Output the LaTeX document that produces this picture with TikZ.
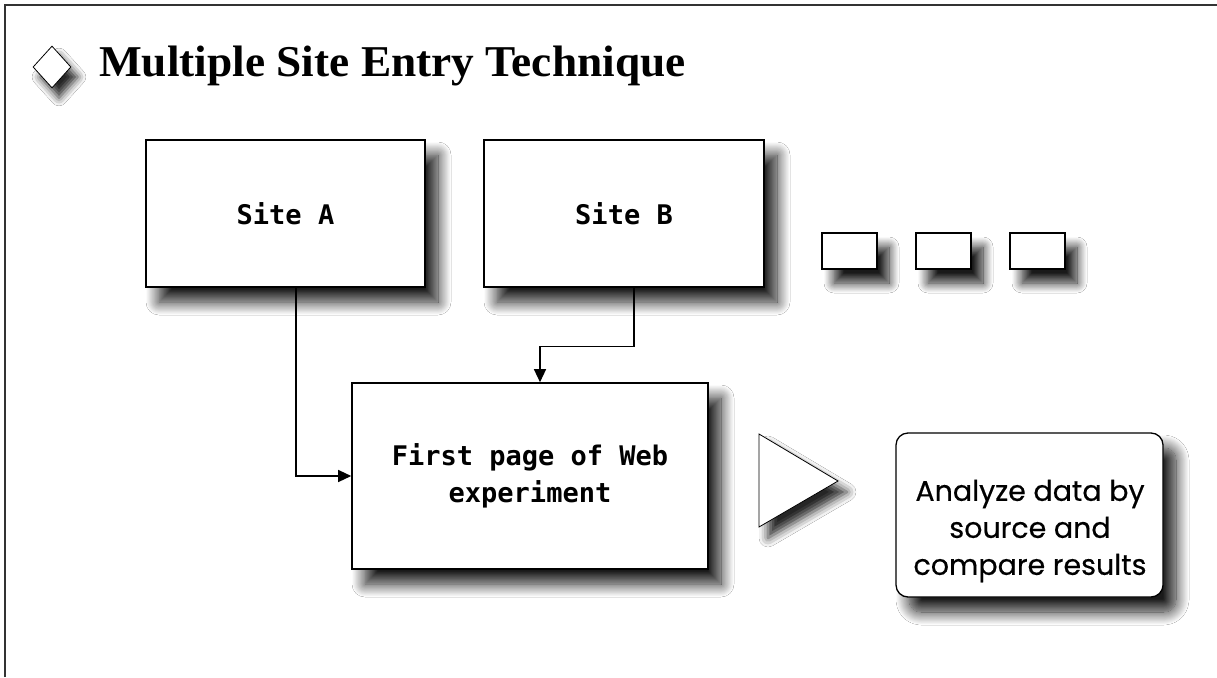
\documentclass[tikz,border=0pt]{standalone}
\usepackage{fontspec}
\usetikzlibrary{arrows.meta,shapes.geometric,shadows.blur,calc}
\newfontfamily\monofont{DejaVu Sans Mono}
\newfontfamily\titlefont{Liberation Serif}
\newfontfamily\roundfont[FakeBold=0.4]{Poppins}
\begin{document}
\begin{tikzpicture}[x=1pt,y=-1pt,
  shad/.style={blur shadow={shadow xshift=13pt,shadow yshift=-15pt,shadow blur radius=13pt,shadow blur steps=16,shadow opacity=90}},
  boxnode/.style={draw=black,line width=1.6pt,fill=white,rectangle,inner sep=0pt,shad,
     font=\monofont\bfseries\fontsize{27}{37}\selectfont,align=center},
  smallbox/.style={draw=black,line width=2pt,fill=white,rectangle,inner sep=0pt,
     minimum width=55pt,minimum height=36pt,
     blur shadow={shadow xshift=12pt,shadow yshift=-14pt,shadow blur radius=10pt,shadow blur steps=12,shadow opacity=90}},
  conn/.style={line width=1.3pt,-{Triangle[length=13pt,width=12pt]}}
]
\useasboundingbox (0,0) rectangle (1217,677);
\fill[white] (0,0) rectangle (1217,677);
\draw[line width=1.5pt,black!80] (5,677) -- (5,5) -- (1217,5);

% title
\node[draw=black,line width=0.8pt,fill=white,diamond,inner sep=0pt,minimum width=38pt,minimum height=42pt,
  blur shadow={shadow xshift=7pt,shadow yshift=-10pt,shadow blur radius=8pt,shadow opacity=85}] (dia) at (52,67) {};
\node[anchor=west,inner sep=0pt,font=\titlefont\bfseries\fontsize{44}{50}\selectfont,xscale=1.03] (title) at (99,66) {Multiple Site Entry Technique};

% site boxes
\node[boxnode,minimum width=279pt,minimum height=147pt] (a) at (285.5,213.5) {Site A};
\node[boxnode,minimum width=280pt,minimum height=147pt] (b) at (624,213.5) {Site B};

\node[smallbox] (s1) at (849.5,251) {};
\node[smallbox] (s2) at (943.5,251) {};
\node[smallbox] (s3) at (1037.5,251) {};

% first page
\node[boxnode,minimum width=356pt,minimum height=186pt] (fp) at (530,476) {First page of Web\\experiment};

% connectors
\draw[conn] ([xshift=10.5pt]a.south) |- (fp.west);
\draw[conn] ([xshift=10pt]b.south) -- ++(0,59) -| ([xshift=10pt]fp.north);

% triangle
\coordinate (t1) at (759,434);
\coordinate (t2) at (838,481);
\coordinate (t3) at (759,527);
\draw[line width=0.8pt,fill=white,blur shadow={shadow xshift=9pt,shadow yshift=-11pt,shadow blur radius=9pt,shadow opacity=85}] (t1) -- (t2) -- (t3) -- cycle;

% result box
\node[draw=black,line width=1.3pt,fill=white,rounded corners=12pt,minimum width=267pt,minimum height=164pt,inner sep=0pt,shad] (res) at (1029.5,515) {};
\node[align=center,inner sep=0pt,font=\roundfont\fontsize{28.5}{37}\selectfont] (restext) at (1030,531) {Analyze data by\\source and\\compare results};
\end{tikzpicture}
\end{document}
